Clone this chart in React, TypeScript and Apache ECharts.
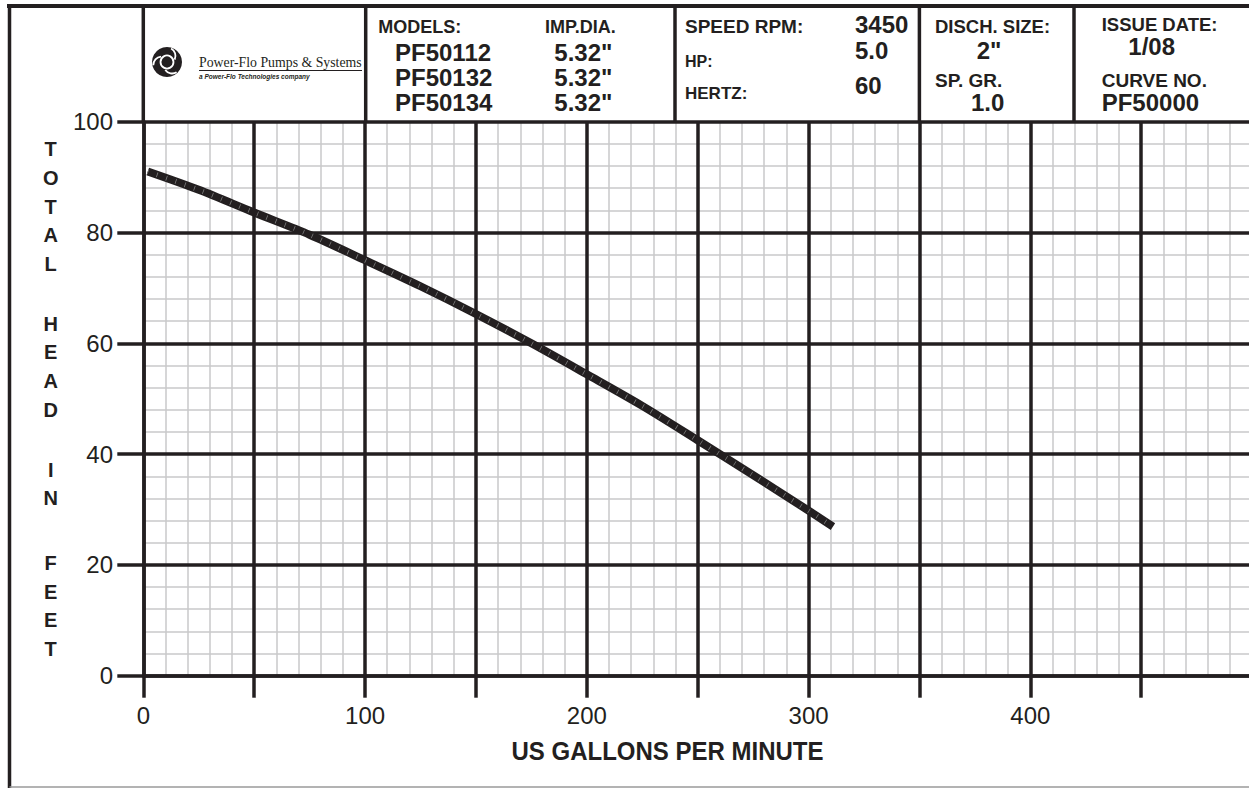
import React, { useEffect, useRef } from "react";
import * as echarts from "echarts";

// ---- data ----
const flowGpm = [2, 25, 50, 75, 100, 125, 150, 175, 200, 225, 250, 275, 300, 311];
const headFt = [91.0, 87.7, 83.6, 79.6, 75.0, 70.3, 65.3, 60.0, 54.4, 48.7, 42.5, 36.2, 29.8, 26.9];
const xLabelValues = [0, 100, 200, 300, 400];
const yLabelValues = [0, 20, 40, 60, 80, 100];

const modelNames = ["PF50112", "PF50132", "PF50134"];
const impellerDia = ['5.32"', '5.32"', '5.32"'];
const speedRpm = "3450";
const horsePower = "5.0";
const hertz = "60";
const dischSize = '2"';
const specGravity = "1.0";
const issueDate = "1/08";
const curveNo = "PF50000";
const yNameWords = ["TOTAL", "HEAD", "IN", "FEET"];
const xName = "US GALLONS PER MINUTE";

const DARK = "#231f20";
const SANS = '"Liberation Sans", Arial, Helvetica, sans-serif';
const bold = (s: number) => `bold ${s}px ${SANS}`;

function txt(x: number, y: number, text: string, font: string, align = "left", extra: any = {}) {
  return {
    type: "text",
    x,
    y,
    z: 20,
    ...extra,
    style: { text, font, fill: DARK, align, verticalAlign: "middle", ...(extra.style || {}) },
  };
}

export default function App() {
  const ref = useRef<HTMLDivElement>(null);

  useEffect(() => {
    document.body.style.margin = "0";
    if (!ref.current) return;
    const chart = echarts.init(ref.current, null, { renderer: "svg" });

    const data = flowGpm.map((x, i) => [x, headFt[i]]);

    const graphics: any[] = [];
    // frame
    graphics.push({ type: "line", z: 20, shape: { x1: 7, y1: 6, x2: 1260, y2: 6 }, style: { stroke: DARK, lineWidth: 4 } });
    graphics.push({ type: "line", z: 20, shape: { x1: 9.5, y1: 4, x2: 9.5, y2: 788 }, style: { stroke: DARK, lineWidth: 3.5 } });
    graphics.push({ type: "line", z: 20, shape: { x1: 9.5, y1: 787, x2: 1260, y2: 787 }, style: { stroke: "#9a9a9a", lineWidth: 1.5 } });
    // header dividers
    [143.3, 365.7, 675, 919.4, 1074].forEach((x) => {
      graphics.push({ type: "line", z: 20, shape: { x1: x, y1: 6, x2: x, y2: 122 }, style: { stroke: DARK, lineWidth: 3.5 } });
    });

    // logo
    const cx = 167, cy = 62;
    graphics.push({ type: "circle", z: 20, shape: { cx, cy, r: 15 }, style: { fill: DARK } });
    graphics.push({ type: "circle", z: 21, shape: { cx, cy, r: 6.5 }, style: { stroke: "#fff", lineWidth: 1.8, fill: "none" } });
    for (let k = 0; k < 3; k++) {
      const a = -Math.PI / 2 + (k * 2 * Math.PI) / 3;
      graphics.push({
        type: "arc",
        z: 21,
        shape: { cx: cx + 6 * Math.cos(a), cy: cy + 6 * Math.sin(a), r: 8.5, startAngle: a + 0.5, endAngle: a + 2.0 },
        style: { stroke: "#fff", lineWidth: 1.8, fill: "none" },
      });
    }
    graphics.push(txt(199, 62, "Power-Flo Pumps & Systems", '13.8px "Liberation Serif", "Times New Roman", serif'));
    graphics.push({ type: "line", z: 20, shape: { x1: 199, y1: 70.5, x2: 362, y2: 70.5 }, style: { stroke: DARK, lineWidth: 1 } });
    graphics.push(txt(199, 76.5, "a Power-Flo Technologies company", `italic bold 6.5px ${SANS}`));

    // header texts
    graphics.push(txt(378.3, 26.7, "MODELS:", bold(18)));
    graphics.push(txt(545, 26.7, "IMP.DIA.", bold(18)));
    const rowY = [52.5, 77.5, 102.5];
    modelNames.forEach((m, i) => graphics.push(txt(395, rowY[i], m, bold(24))));
    impellerDia.forEach((d, i) => graphics.push(txt(554.3, rowY[i], d, bold(24))));
    graphics.push(txt(685, 26.7, "SPEED RPM:", bold(19)));
    graphics.push(txt(685, 61, "HP:", bold(16)));
    graphics.push(txt(685, 93.7, "HERTZ:", bold(17)));
    graphics.push(txt(855, 24.5, speedRpm, bold(24)));
    graphics.push(txt(855, 50, horsePower, bold(24)));
    graphics.push(txt(855, 85, hertz, bold(24)));
    graphics.push(txt(935, 26.7, "DISCH. SIZE:", bold(18.5)));
    graphics.push(txt(976.7, 50, dischSize, bold(24)));
    graphics.push(txt(935, 80.3, "SP. GR.", bold(19)));
    graphics.push(txt(971, 102.5, specGravity, bold(24)));
    graphics.push(txt(1101.7, 24.5, "ISSUE DATE:", bold(18.5)));
    graphics.push(txt(1128.3, 46, issueDate, bold(24)));
    graphics.push(txt(1101.7, 80.3, "CURVE NO.", bold(19)));
    graphics.push(txt(1101.7, 102.5, curveNo, bold(24)));

    // axis names
    const wordCenters = [206.7, 366.7, 484, 606];
    yNameWords.forEach((w, i) => {
      graphics.push(
        txt(50.7, wordCenters[i], w.split("").join("\n"), bold(20), "center", {
          style: { lineHeight: 28.7 },
        })
      );
    });
    graphics.push(txt(667.5, 751.7, xName, bold(25), "center", { scaleX: 0.96 }));

    const option: any = {
      animation: false,
      backgroundColor: "#fff",
      grid: { left: 143.3, right: 7.95, top: 121.7, bottom: 112.3, containLabel: false },
      xAxis: [
        {
          type: "value",
          position: "bottom",
          min: 0,
          max: 500,
          interval: 50,
          z: 1,
          axisLine: { show: true, onZero: false, lineStyle: { color: DARK, width: 3.5 } },
          axisTick: { show: true, length: 22, lineStyle: { color: DARK, width: 3.5 } },
          axisLabel: {
            show: true,
            margin: 28,
            fontSize: 24,
            color: DARK,
            fontFamily: SANS,
            formatter: (v: number) => (xLabelValues.includes(v) ? String(v) : ""),
          },
          splitLine: { show: false },
          minorTick: { show: false, splitNumber: 5 },
          minorSplitLine: { show: true, lineStyle: { color: "#c8c8ca", width: 1.5 } },
        },
        {
          type: "value",
          position: "top",
          min: 0,
          max: 500,
          interval: 50,
          z: 3,
          axisLine: { show: false },
          axisTick: { show: false },
          axisLabel: { show: false },
          splitLine: { show: true, lineStyle: { color: DARK, width: 3.5 } },
        },
      ],
      yAxis: [
        {
          type: "value",
          position: "left",
          min: 0,
          max: 100,
          interval: 20,
          z: 1,
          axisLine: { show: true, onZero: false, lineStyle: { color: DARK, width: 3.5 } },
          axisTick: { show: true, length: 26, lineStyle: { color: DARK, width: 3.5 } },
          axisLabel: {
            show: true,
            margin: 30.3,
            fontSize: 24,
            color: DARK,
            fontFamily: SANS,
            formatter: (v: number) => (yLabelValues.includes(v) ? String(v) : ""),
          },
          splitLine: { show: false },
          minorTick: { show: false, splitNumber: 5 },
          minorSplitLine: { show: true, lineStyle: { color: "#c8c8ca", width: 1.5 } },
        },
        {
          type: "value",
          position: "right",
          min: 0,
          max: 100,
          interval: 20,
          z: 3,
          axisLine: { show: false },
          axisTick: { show: false },
          axisLabel: { show: false },
          splitLine: { show: true, lineStyle: { color: DARK, width: 3.5 } },
        },
      ],
      series: [
        {
          type: "line",
          xAxisIndex: 0,
          yAxisIndex: 0,
          data,
          smooth: 0.3,
          symbol: "none",
          z: 5,
          lineStyle: { color: DARK, width: 8, cap: "butt" },
        },
        {
          type: "line",
          xAxisIndex: 0,
          yAxisIndex: 0,
          data,
          smooth: 0.3,
          symbol: "none",
          z: 6,
          silent: true,
          lineStyle: { color: "#7a7a7a", width: 5, type: [0.8, 9], cap: "butt" },
        },
      ],
      graphic: graphics,
    };

    chart.setOption(option);
    return () => chart.dispose();
  }, []);

  return (
    <div style={{ position: "fixed", left: 0, top: 0, width: 1249, height: 788, overflow: "hidden", background: "#fff" }}>
      <div ref={ref} style={{ width: 1260, height: 788 }} />
    </div>
  );
}
